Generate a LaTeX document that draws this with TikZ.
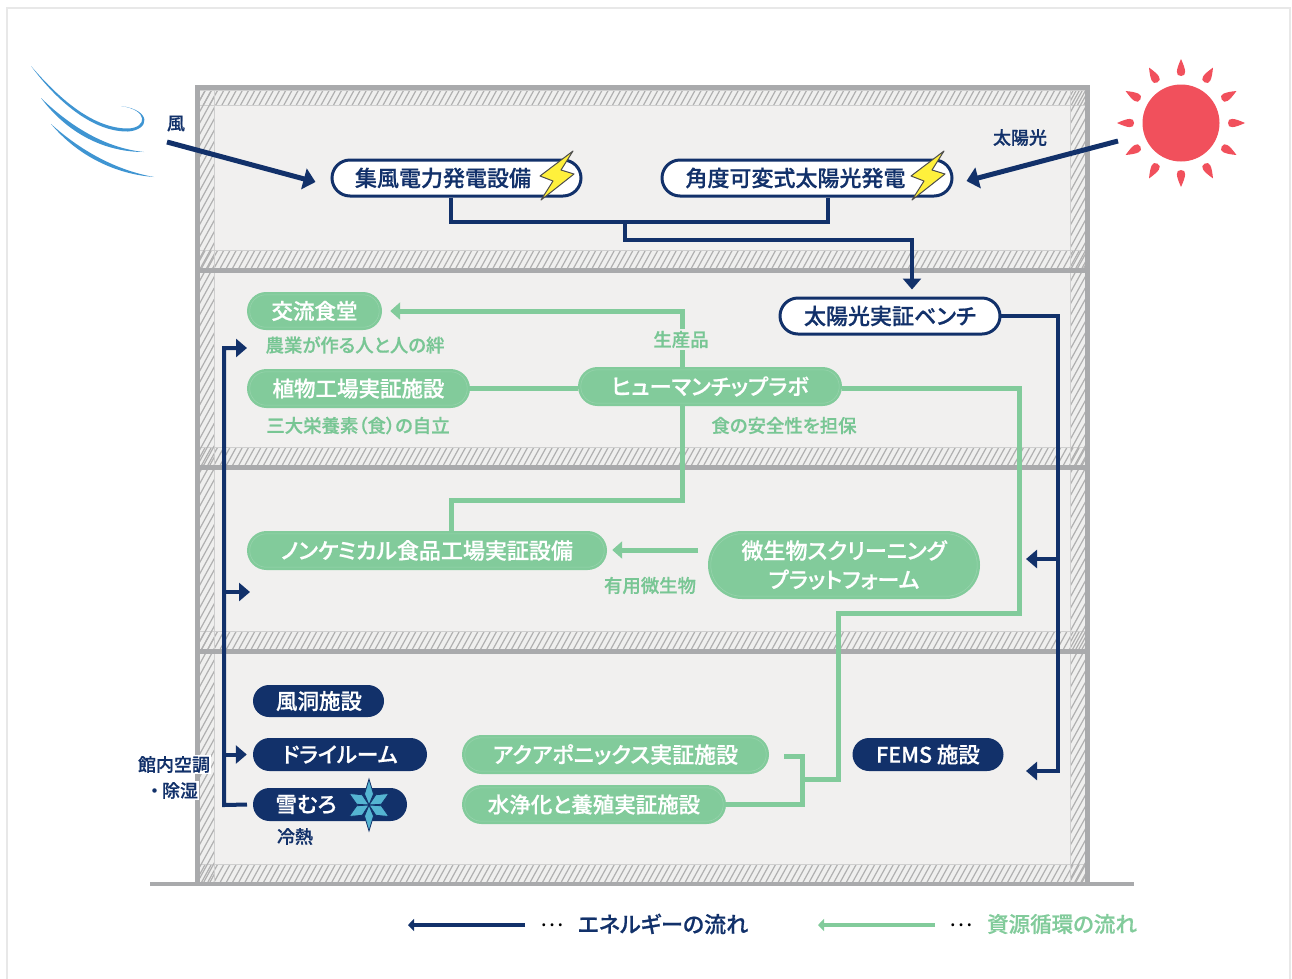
\documentclass[tikz,border=0pt]{standalone}
\usepackage{fontspec}
\setmainfont{Noto Sans CJK JP}[RawFeature=+palt,BoldFont={Noto Sans CJK JP Medium},BoldFeatures={FakeBold=0.6}]
\usetikzlibrary{arrows.meta,shapes.misc,calc}
\definecolor{navy}{HTML}{12316A}
\definecolor{leaf}{HTML}{82CB9B}
\definecolor{leaftext}{HTML}{78C694}
\definecolor{wallc}{HTML}{A9AAAC}
\definecolor{hatchc}{HTML}{B0B0B0}
\definecolor{hatchbg}{HTML}{EFEFEE}
\definecolor{roomc}{HTML}{F1F0EF}
\definecolor{edgec}{HTML}{CFCFCF}
\definecolor{sunc}{HTML}{F1505C}
\definecolor{windc}{HTML}{3F95D2}
\definecolor{boltc}{HTML}{FFF03C}
\definecolor{snowc}{HTML}{55B5D2}
\definecolor{framec}{HTML}{E8E8E8}
\newcommand{\hatchband}[4]{%
  \begin{scope}
    \clip (#1,#2) rectangle (#3,#4);
    \pgfmathsetmacro{\hh}{#4-#2}
    \pgfmathsetmacro{\hs}{#1-\hh*0.55-6}
    \pgfmathsetmacro{\hn}{\hs+6.2}
    \pgfmathsetmacro{\he}{#3+6}
    \foreach \hx in {\hs,\hn,...,\he}
      \draw[hatchc,line width=1.2pt] (\hx,#4) -- ++({\hh*0.55},-\hh);
  \end{scope}
  \draw[edgec,line width=1pt] (#1,#2) rectangle (#3,#4);
}
\tikzset{
  x=1pt,y=-1pt,
  every node/.style={font=\bfseries},
  pillw/.style={rounded rectangle,draw=navy,line width=3pt,fill=white,text=navy,inner sep=0pt,font=\bfseries\fontsize{22}{26}\selectfont},
  pillg/.style={rounded rectangle,fill=leaf,text=white,inner sep=0pt,font=\bfseries\fontsize{21.5}{29}\selectfont,align=center},
  pillgk/.style={pillg,font=\bfseries\fontsize{22}{29}\selectfont},
  pilln/.style={rounded rectangle,fill=navy,text=white,inner sep=0pt,font=\bfseries\fontsize{21.5}{26}\selectfont},
  labg/.style={text=leaftext,inner sep=0pt,font=\bfseries\fontsize{18.4}{22}\selectfont},
  labn/.style={text=navy,inner sep=1pt,font=\bfseries\fontsize{18}{26}\selectfont},
  flown/.style={draw=navy,line width=4pt,miter limit=10},
  flowg/.style={draw=leaf,line width=5pt,miter limit=10},
  tipn/.style={-{Triangle[length=11pt,width=18pt]}},
  tipg/.style={-{Triangle[length=10pt,width=17pt]}},
  boltstyle/.style={fill=boltc,draw=black!70,line width=1pt,line join=round},
  sunray/.style={fill=sunc},
  windstyle/.style={fill=windc},
  flake/.style={fill=snowc,draw=navy,line width=.8pt},
  innerline/.style={draw=leaf!82!white,line width=.5pt},
}
\begin{document}
\begin{tikzpicture}
\useasboundingbox (0,0) rectangle (1292,978);
\draw[framec,line width=2.5pt] (7,980) -- (7,8) -- (1290,8) -- (1290,980);
% building
\fill[roomc] (197,88) rectangle (1087,884);
\foreach \ya/\yb in {90/105,250/268,447/465,631/649,864/882}
  \fill[hatchbg] (199,\ya) rectangle (1085,\yb);
\fill[hatchbg] (199,90) rectangle (214,882);
\fill[hatchbg] (1070,90) rectangle (1085,882);
\hatchband{199}{90}{1085}{105}
\hatchband{199}{250}{1085}{268}
\hatchband{199}{447}{1085}{465}
\hatchband{199}{631}{1085}{649}
\hatchband{199}{864}{1085}{882}
\hatchband{199}{90}{214}{882}
\hatchband{1070}{90}{1085}{882}
\draw[wallc,line width=5pt] (197,884) -- (197,87.5) -- (1087,87.5) -- (1087,884);
\foreach \fy in {270,467,651} \draw[wallc,line width=5pt] (199,\fy) -- (1085,\fy);
\draw[wallc,line width=4.5pt] (150,884) -- (1134,884);
% wind
\fill[windstyle] (31,66) .. controls (60,105) and (95,132) .. (128,131.5) .. controls (150,130) and (152,110) .. (121,106)
  .. controls (149,110) and (147,128) .. (128,128.5) .. controls (95,128.5) and (62,102) .. (31,66) -- cycle;
\fill[windstyle] (41,98) .. controls (68,134) and (105,152) .. (144,152) .. controls (105,148) and (70,126) .. (41,98) -- cycle;
\fill[windstyle] (51,124) .. controls (78,156) and (115,174) .. (154,177) .. controls (115,170) and (80,150) .. (51,124) -- cycle;
% sun
\foreach \ra in {0,30,...,330}
  \fill[sunray,shift={(1181,123)},rotate=\ra] (47,0) .. controls (47,-6) and (53,-5) .. (64,0) .. controls (53,5) and (47,6) .. (47,0) -- cycle;
\fill[sunc] (1181,123) circle[radius=38.5];
% junctions
\coordinate (sunend) at (1118,141);
\coordinate (windend) at (167,142);
\coordinate (j1) at (451,222);
\coordinate (j2) at (828,222);
\coordinate (j3) at (625,222);
\coordinate (j4) at (625,240);
\coordinate (j5) at (912,240);
\coordinate (r1) at (1058,316);
\coordinate (r2) at (1058,771);
\coordinate (r3) at (1026,771);
\coordinate (r4) at (1058,559);
\coordinate (r5) at (1026,559);
\coordinate (l1) at (224,805);
\coordinate (l2) at (224,348);
\coordinate (l3) at (247,348);
\coordinate (l4) at (224,592);
\coordinate (l5) at (250,592);
\coordinate (g1) at (682,311);
\coordinate (g2) at (682,329);
\coordinate (g3) at (682,350);
\coordinate (g4) at (682,500);
\coordinate (g5) at (451,500);
\coordinate (g6) at (1019,388);
\coordinate (g7) at (1019,613);
\coordinate (g8) at (838,613);
\coordinate (g9) at (838,779);
\coordinate (g10) at (802,779);
\coordinate (g11) at (802,756);
\coordinate (g12) at (784,756);
\coordinate (g13) at (802,804);
\coordinate (h1) at (698,550);
\coordinate (k1) at (525,925);
\coordinate (k2) at (408,925);
\coordinate (k3) at (935,925);
\coordinate (k4) at (818,925);
% nodes
\node[pillw,minimum width=249pt,minimum height=36pt] (wf) at (456.5,178) {\hspace*{-27pt}集風電力発電設備};
\node[pillw,minimum width=290pt,minimum height=36pt] (sf) at (807,178) {\hspace*{-23pt}角度可変式太陽光発電};
\node[pillw,minimum width=220pt,minimum height=36pt] (bench) at (890,316) {太陽光実証ベンチ};
\node[pillg,minimum width=135pt,minimum height=38pt] (canteen) at (314.5,311) {交流食堂};
\node[pillg,minimum width=223pt,minimum height=39pt] (plant) at (358.5,388.5) {植物工場実証施設};
\node[pillgk,minimum width=264pt,minimum height=39pt] (lab) at (710,386.5) {ヒューマンチップラボ};
\node[pillgk,minimum width=360pt,minimum height=39pt] (chem) at (427,550.5) {ノンケミカル食品工場実証設備};
\node[pillgk,minimum width=272pt,minimum height=68pt] (micro) at (844,565) {微生物スクリーニング\\プラットフォーム};
\node[pilln,minimum width=131pt,minimum height=32pt] (tunnel) at (318.5,701) {\hspace*{1pt}風洞施設};
\node[pilln,minimum width=174pt,minimum height=33pt] (dry) at (340,754.5) {ドライルーム};
\node[pilln,minimum width=154pt,minimum height=33pt] (snow) at (330,804.5) {\hspace*{-48pt}雪むろ};
\node[pilln,minimum width=151pt,minimum height=33pt] (fems) at (928,754.5) {FEMS 施設};
\node[pillgk,minimum width=307pt,minimum height=39pt] (aqua) at (615.5,754.5) {アクアポニックス実証施設};
\node[pillg,minimum width=264pt,minimum height=39pt] (water) at (594,804.5) {水浄化と養殖実証施設};
\foreach \pn/\pr in {canteen/16,plant/16.5,lab/16.5,chem/16.5,micro/31,aqua/16.5,water/16.5}
  \draw[innerline,rounded corners=\pr pt] ([shift={(3,3)}]\pn.west |- \pn.north) rectangle ([shift={(-3,-3)}]\pn.east |- \pn.south);
% labels
\node[labn] (lwind) at (176,123.5) {風};
\node[labn] (lsun) at (1020,137.5) {太陽光};
\node[labg] (l1a) at (681,339.5) {生産品};
\node[labg] (l2a) at (355,345) {農業が作る人と人の絆};
\node[labg] (l3a) at (358,425.5) {三大栄養素（食）の自立};
\node[labg] (l4a) at (784,425.5) {食の安全性を担保};
\node[labg] (l5a) at (650,585.5) {有用微生物};
\node[labn,fill=white] (l6a) at (174,764.5) {館内空調};
\node[labn,fill=white] (l6b) at (174,790.5) {・\hspace{3pt}除湿};
\node[labn] (l7a) at (295,836.5) {冷熱};
% bolts
\foreach \bx in {0,371}
  \draw[boltstyle,shift={(\bx,0)}] (573,151) -- (540,176) -- (553,181) -- (541,200) -- (574,174) -- (561,170) -- cycle;
% snowflake
\foreach \sa in {90,270}
  \draw[flake,shift={(369,805)},rotate=\sa] (0,0) -- (11,4.5) -- (26,0) -- (11,-4.5) -- cycle;
\foreach \sa in {30,150,210,330}
  \draw[flake,shift={(369,805)},rotate=\sa] (0,0) -- (11,5.5) -- (23,0) -- (11,-5.5) -- cycle;
% navy connectors
\draw[flown,line width=5pt,-{Triangle[length=12pt,width=21pt]}] (windend) -- ([shift={(-15,4)}]wf.west);
\draw[flown,line width=5pt,-{Triangle[length=12pt,width=21pt]}] (sunend) -- ([shift={(13,3)}]sf.east);
\draw[flown] (wf.south -| j1) -- (j1) -- (j2) -- (sf.south -| j2);
\draw[flown,tipn] (j3) -- (j4) -- (j5) -- ([yshift=7]bench.north -| j5);
\draw[flown,tipn] ([xshift=-2]bench.east) -- (r1) -- (r2) -- (r3);
\draw[flown,tipn] (r4) -- (r5);
\draw[flown,tipn] (snow.west -| 247,0) -- (l1) -- (l2) -- (l3);
\draw[flown,tipn] (l4) -- (l5);
\draw[flown,tipn] (dry.west -| l1) -- ([xshift=-6]dry.west);
% green connectors
\draw[flowg,tipg] (g2) -- (g1) -- ([xshift=8]canteen.east |- g1);
\draw[flowg] (plant.east) -- (lab.west |- plant.east);
\draw[flowg] (g3) -- (lab.north -| g3);
\draw[flowg] (lab.south -| g4) -- (g4) -- (g5) -- (chem.north -| g5);
\draw[flowg] (lab.east |- g6) -- (g6) -- (g7) -- (g8) -- (g9) -- (g10);
\draw[flowg] (g12) -- (g11) -- (g13) -- (water.east |- g13);
\draw[flowg,tipg] (h1) -- ([xshift=5]chem.east |- h1);
% legend
\draw[draw=navy,line width=4pt,-{Triangle[length=6pt,width=12pt]}] (k1) -- (k2);
\draw[draw=leaf,line width=4pt,-{Triangle[length=6pt,width=12pt]}] (k3) -- (k4);
\node[text=black,inner sep=0pt,font=\fontsize{22}{26}\selectfont] (d1) at (552,925) {…};
\node[text=black,inner sep=0pt,font=\fontsize{22}{26}\selectfont] (d2) at (961,925) {…};
\node[text=navy,inner sep=0pt,font=\bfseries\fontsize{22}{26}\selectfont] (e1) at (663,924) {エネルギーの流れ};
\node[text=leaf,inner sep=0pt,font=\bfseries\fontsize{21.5}{26}\selectfont] (e2) at (1062,924) {資源循環の流れ};
\end{tikzpicture}
\end{document}
